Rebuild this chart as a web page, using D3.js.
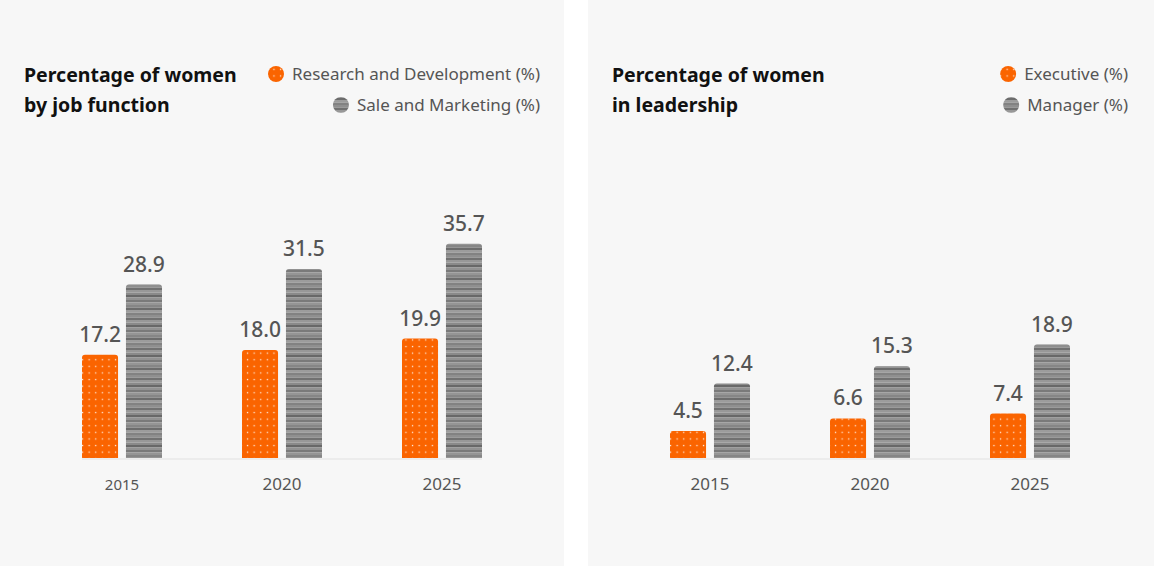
<!DOCTYPE html>
<html>
<head>
<meta charset="utf-8">
<script src="https://cdn.jsdelivr.net/npm/d3@7"></script>
<style>
  body { margin: 0; background: #ffffff; }
  svg { display: block; font-family: "Noto Sans", "Open Sans", sans-serif; }
</style>
</head>
<body>
<svg id="chart" width="1154" height="566"></svg>
<script>
// chart data
var years = ["2015", "2020", "2025"];

var jobTitle = ["Percentage of women", "by job function"];
var jobSeries = ["Research and Development (%)", "Sale and Marketing (%)"];
var rndValues = [17.2, 18.0, 19.9];
var salesValues = [28.9, 31.5, 35.7];

var leadTitle = ["Percentage of women", "in leadership"];
var leadSeries = ["Executive (%)", "Manager (%)"];
var execValues = [4.5, 6.6, 7.4];
var managerValues = [12.4, 15.3, 18.9];

var svg = d3.select("svg#chart");
var defs = svg.append("defs");

// orange dotted fill
var dots = defs.append("pattern")
  .attr("id", "dots")
  .attr("patternUnits", "userSpaceOnUse")
  .attr("width", 6.6)
  .attr("height", 6.6);
dots.append("rect").attr("width", 6.6).attr("height", 6.6).attr("fill", "#fa6400");
dots.append("rect").attr("x", 2.7).attr("y", 2.7).attr("width", 1.3).attr("height", 1.3)
  .attr("fill", "#ffe6d4");

// gray striped fill
var stripeShades = ["#7a7a7a", "#959595", "#868686", "#6c6c6c", "#9c9c9c", "#828282",
                    "#8f8f8f", "#717171", "#989898", "#8a8a8a", "#686868", "#929292"];
var stripes = defs.append("pattern")
  .attr("id", "stripes")
  .attr("patternUnits", "userSpaceOnUse")
  .attr("width", 10)
  .attr("height", stripeShades.length * 2.5);
stripes.selectAll("rect")
  .data(stripeShades)
  .enter().append("rect")
  .attr("x", 0)
  .attr("y", function(d, i){ return i * 2.5; })
  .attr("width", 10)
  .attr("height", 2.5)
  .attr("fill", function(d){ return d; });

var baseY = 458;

var y = d3.scaleLinear().domain([0, 40]).range([baseY, baseY - 240]);
var x0 = d3.scaleBand().domain(years).range([42, 522]);
var x1 = d3.scaleBand().domain([0, 1]).range([40, 120]).paddingInner(0.18);

function topRounded(x, yTop, w, h, r){
  return "M" + x + "," + (yTop + h) +
         "V" + (yTop + r) +
         "Q" + x + "," + yTop + " " + (x + r) + "," + yTop +
         "H" + (x + w - r) +
         "Q" + (x + w) + "," + yTop + " " + (x + w) + "," + (yTop + r) +
         "V" + (yTop + h) + "Z";
}

function draw_panel(offset, panelW, title, series, valsA, valsB, panelNo){
  var g = svg.append("g").attr("transform", "translate(" + offset + ",0)");

  g.append("rect")
    .attr("width", panelW)
    .attr("height", 566)
    .attr("fill", "#f7f7f7");

  // title
  var t = g.append("text")
    .attr("x", 24)
    .attr("y", 82)
    .attr("fill", "#111111")
    .attr("style", "font-size: 19.5px; font-weight: 700;");
  t.selectAll("tspan")
    .data(title)
    .enter().append("tspan")
    .attr("x", 24)
    .attr("dy", function(d, i){ return i == 0 ? 0 : 30; })
    .text(function(d){ return d; });

  // legend, right aligned
  var fills = ["url(#dots)", "url(#stripes)"];
  series.forEach(function(name, i){
    var ly = 74 + i * 31;
    var txt = g.append("text")
      .attr("x", 540)
      .attr("y", ly)
      .attr("dy", "0.35em")
      .attr("text-anchor", "end")
      .attr("fill", "#555555")
      .attr("style", "font-size: 17px;")
      .text(name);
    var tw = txt.node().getComputedTextLength();
    g.append("circle")
      .attr("cx", 540 - tw - 16)
      .attr("cy", ly)
      .attr("r", 8)
      .attr("fill", fills[i]);
  });

  // baseline
  g.append("line")
    .attr("x1", x0(years[0]) + x1(0))
    .attr("x2", x0(years[years.length - 1]) + x1(1) + x1.bandwidth())
    .attr("y1", baseY + 1)
    .attr("y2", baseY + 1)
    .attr("stroke", "#ececec")
    .attr("stroke-width", 2);

  // bars and value labels
  [valsA, valsB].forEach(function(vals, s){
    vals.forEach(function(v, i){
      var bx = x0(years[i]) + x1(s);
      var bw = x1.bandwidth();
      g.append("path")
        .attr("d", topRounded(bx, y(v), bw, baseY - y(v), 3))
        .attr("fill", fills[s]);
      g.append("text")
        .attr("x", bx + bw / 2)
        .attr("y", y(v) - 13)
        .attr("text-anchor", "middle")
        .attr("fill", "#555555")
        .attr("style", "font-size: 21px; font-weight: 500;")
        .text(v.toFixed(1));
    });
  });

  // year labels
  years.forEach(function(yr, i){
    g.append("text")
      .attr("x", x0(yr) + x0.bandwidth() / 2)
      .attr("y", 490)
      .attr("text-anchor", "middle")
      .attr("fill", "#555555")
      .attr("style", "font-size: " + ((panelNo == 0 && i == 0) ? 15 : 17) + "px;")
      .text(yr);
  });
}

draw_panel(0, 564, jobTitle, jobSeries, rndValues, salesValues, 0);
draw_panel(588, 566, leadTitle, leadSeries, execValues, managerValues, 1);
</script>
</body>
</html>
